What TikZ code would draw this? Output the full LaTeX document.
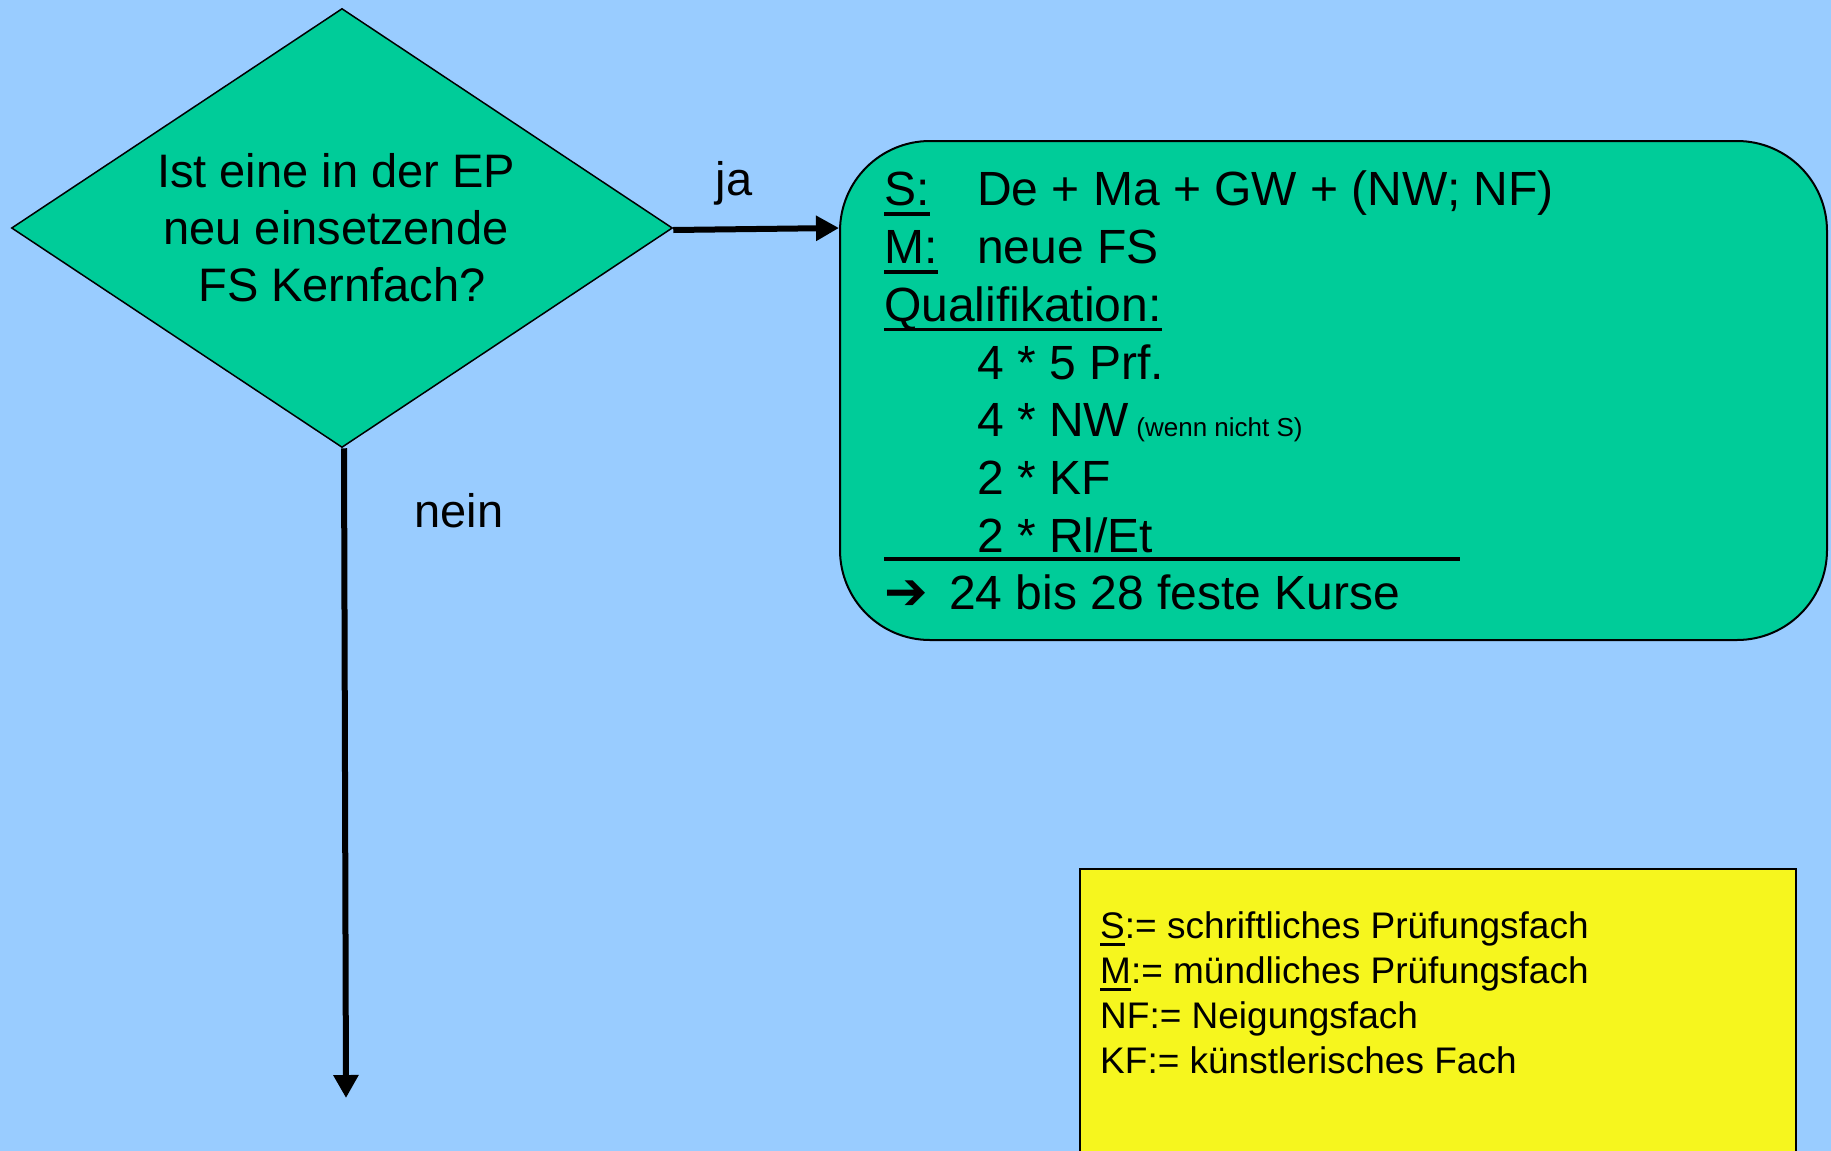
\documentclass[tikz,border=0pt]{standalone}
\usepackage{fontspec}
\setmainfont{Liberation Sans}
\newfontfamily\dejavub{DejaVu Sans Bold}
\usetikzlibrary{shapes.geometric,arrows.meta}
\definecolor{bgblue}{RGB}{153,204,255}
\definecolor{boxgreen}{RGB}{0,204,153}
\definecolor{noteyellow}{RGB}{246,246,30}
\newcommand\ulx[3]{\setbox0\hbox{#1}\rlap{\rule[#2]{\wd0}{#3}}\box0}
\tikzset{
  decision/.style={diamond, draw=black, line width=1.5pt, fill=boxgreen, shape aspect=1.506,
    minimum width=661pt, minimum height=439pt, inner sep=0pt, align=center,
    font=\fontsize{47}{57}\selectfont},
  resultbox/.style={draw=black, line width=2pt, fill=boxgreen, rounded corners=90pt,
    minimum width=987pt, minimum height=499pt, inner sep=0pt},
  notebox/.style={draw=black, line width=1.5pt, fill=noteyellow},
  bigtext/.style={inner sep=0pt, align=left, anchor=north west, font=\fontsize{48}{57.7}\selectfont},
  notetext/.style={inner sep=0pt, align=left, anchor=north west, font=\fontsize{37}{45}\selectfont},
  flowarrow/.style={line width=6pt, -{Triangle[length=23pt,width=24pt]}},
  lbl/.style={inner sep=0pt, font=\fontsize{47}{57}\selectfont}
}
\begin{document}
\begin{tikzpicture}[x=1pt,y=-1pt]
\fill[bgblue] (0,0) rectangle (1831,1151);
\useasboundingbox (0,0) rectangle (1831,1151);
\clip (0,0) rectangle (1831,1151);

\node[decision] (q) at (342,228) {\hspace*{-12pt}Ist eine in der EP\\\hspace*{-12pt}neu einsetzende\\ FS Kernfach?};

\node[resultbox] (res) at (1333.5,390.5) {};
\node[bigtext] (restext) at (884,171) {%
\makebox[93pt][l]{\ulx{S:}{-10pt}{3.5pt}}De + Ma + GW + (NW; NF)\\
\makebox[93pt][l]{\ulx{M:}{-10pt}{3.5pt}}neue FS\\
\ulx{Qualifikation:}{-10pt}{3.5pt}\\
\hspace*{93pt}4 * 5 Prf.\\
\hspace*{93pt}4 * NW{\fontsize{26}{30}\selectfont{} (wenn nicht S)}\\
\hspace*{93pt}2 * KF\\
\rlap{\rule[-9pt]{576pt}{4pt}}\hspace*{93pt}2 * Rl/Et\\
{\dejavub\fontsize{52}{57.7}\selectfont ➔}\hspace*{8pt} 24 bis 28 feste Kurse};

\draw[notebox] (1080,869) rectangle (1796,1170);
\node[notetext] (legend) at (1100,911) {%
\ulx{S}{-8pt}{2.7pt}:= schriftliches Prüfungsfach\\
\ulx{M}{-8pt}{2.7pt}:= mündliches Prüfungsfach\\
NF:= Neigungsfach\\
KF:= künstlerisches Fach};

\coordinate (neinend) at (346,1098);
\draw[flowarrow] ([yshift=-2pt]q.east) -- (q.east -| res.west);
\draw[flowarrow] ([xshift=2pt]q.south) -- (neinend);

\node[lbl] (ja) at (734,183) {ja};
\node[lbl] (nein) at (459,511) {nein};
\end{tikzpicture}
\end{document}
